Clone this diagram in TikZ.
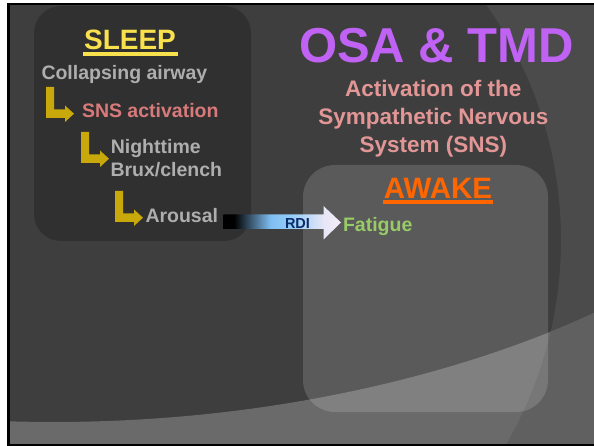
\documentclass[tikz,border=0pt]{standalone}
\usepackage{fontspec}
\setmainfont{Liberation Sans}
\definecolor{bg}{HTML}{3E3E3E}
\definecolor{cres}{HTML}{4B4B4B}
\definecolor{botin}{HTML}{6A6A6A}
\definecolor{botout}{HTML}{606060}
\definecolor{sleepy}{HTML}{F9E14E}
\definecolor{grayt}{HTML}{AEAEAE}
\definecolor{snsred}{HTML}{D97A7A}
\definecolor{pinkt}{HTML}{E29696}
\definecolor{purp}{HTML}{C062F4}
\definecolor{orng}{HTML}{FF6600}
\definecolor{fatg}{HTML}{98CB66}
\definecolor{navy}{HTML}{0B2A6B}
\definecolor{elbowy}{RGB}{200,168,10}
\definecolor{rdiblue}{HTML}{7FBEF2}
\definecolor{rdiblue2}{HTML}{95CDF8}
\definecolor{rdipale}{HTML}{E6E6F6}
\definecolor{rdipale2}{HTML}{F4ECFA}
\pgfdeclarehorizontalshading{rdishade}{100bp}{color(0bp)=(black); color(25bp)=(black); color(29.5bp)=(black); color(45bp)=(rdiblue); color(54bp)=(rdiblue2); color(67.5bp)=(rdipale); color(75bp)=(rdipale2); color(100bp)=(rdipale2)}
\newcommand{\fsz}[1]{\fontsize{#1}{#1}\selectfont}
\begin{document}
\begin{tikzpicture}[x=1pt,y=-1pt,
  txt/.style={inner sep=0pt, outer sep=0pt, font=\bfseries\fsz{19.5}},
  elbow/.pic={\fill[elbowy] (0,0) -- (8,0) -- (8,22.5) -- (19,22.5) -- (19,18.5) -- (28,26.7) -- (19,35) -- (19,31) -- (0,31) -- cycle;}]
\useasboundingbox (0,0) rectangle (594,446);
\fill[white] (0,0) rectangle (594,446);
\fill[black] (7,3) rectangle (594,446);
\begin{scope}
  \clip (10,5.5) rectangle (594,443);
  \fill[bg] (0,0) rectangle (600,450);
  \fill[cres, even odd rule] (0,0) rectangle (600,450) (153,240) circle[radius=408pt];
  \fill[botin] (0,421) .. controls (250,430) and (460,375) .. (594,313) -- (600,310) -- (600,450) -- (0,450) -- cycle;
  \begin{scope}
    \clip (0,421) .. controls (250,430) and (460,375) .. (594,313) -- (600,310) -- (600,450) -- (0,450) -- cycle;
    \fill[botout, even odd rule] (0,0) rectangle (600,450) (153,240) circle[radius=408pt];
  \end{scope}
\end{scope}
% boxes
\fill[black, opacity=0.22, rounded corners=27pt] (34,6) rectangle (251,241);
\fill[white, opacity=0.15, rounded corners=32pt] (303,165) rectangle (548,412);
% titles
\node[txt, font=\bfseries\fsz{28}, text=sleepy, anchor=base] (sleep) at (130,50) {SLEEP};
\fill[sleepy] ([xshift=-1.5pt,yshift=-2pt]sleep.base west) rectangle ([xshift=2pt,yshift=-5.8pt]sleep.base east);
\node[txt, font=\bfseries\fsz{49}, text=purp, anchor=base] (osa) at (436.5,63) {OSA \& TMD};
\node[txt, font=\bfseries\fsz{22.5}, text=pinkt, anchor=base] (sub1) at (433.3,96.7) {Activation of the};
\node[txt, font=\bfseries\fsz{22.5}, text=pinkt, anchor=base] (sub2) at (433.3,125) {Sympathetic Nervous};
\node[txt, font=\bfseries\fsz{22.5}, text=pinkt, anchor=base] (sub3) at (433.3,152.7) {System (SNS)};
\node[txt, font=\bfseries\fsz{29.5}, text=orng, anchor=base] (awake) at (438,198.3) {AWAKE};
\fill[orng] ([xshift=-1pt,yshift=-2pt]awake.base west) rectangle ([xshift=1pt,yshift=-6pt]awake.base east);
% sleep chain
\node[txt, text=grayt, anchor=base west] (collapse) at (41.5,80) {Collapsing airway};
\pic at (46,87) {elbow};
\node[txt, text=snsred, anchor=base west] (sns) at (82,118) {SNS activation};
\pic at (81,132) {elbow};
\node[txt, text=grayt, anchor=base west] (night) at (110.8,154) {Nighttime};
\node[txt, text=grayt, anchor=base west] (brux) at (110.5,177) {Brux/clench};
\pic at (115,191) {elbow};
\node[txt, text=grayt, anchor=base west] (arousal) at (145.5,222.7) {Arousal};
% RDI arrow
\shade[shading=rdishade] (223.5,214.5) -- (323.5,214.5) -- (323.5,206) -- (341,222.5) -- (323.5,239.5) -- (323.5,229) -- (223.5,229) -- cycle;
\node[txt, font=\bfseries\fsz{14.5}, text=navy, anchor=base] (rdi) at (297.5,228.3) {RDI};
\node[txt, text=fatg, anchor=base west] (fatigue) at (343,231.5) {Fatigue};
\end{tikzpicture}
\end{document}
